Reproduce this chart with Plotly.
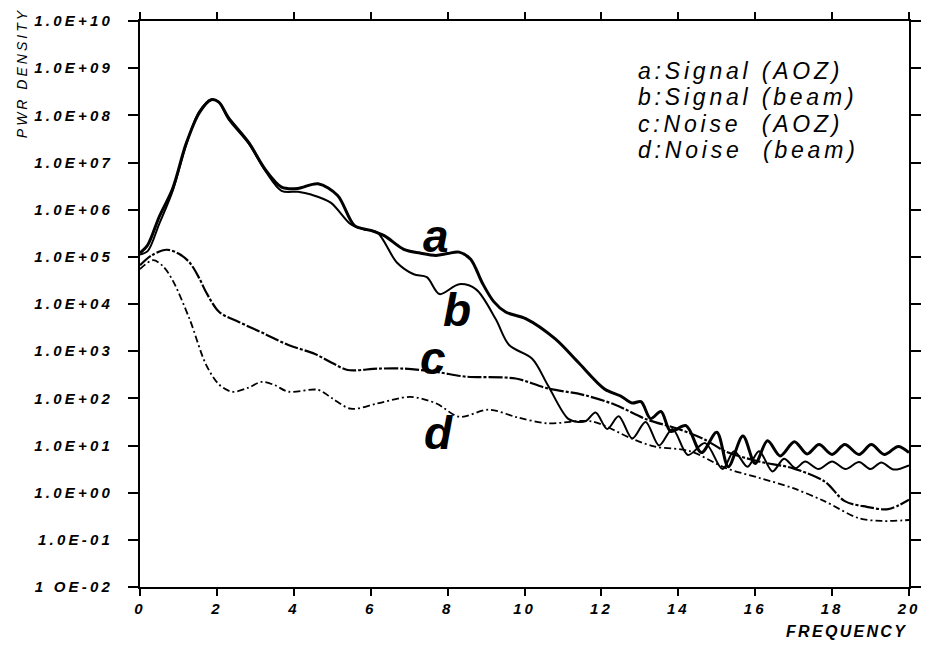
import numpy as np
import plotly.graph_objects as go

# Spectra: frequency values and log10 of power density
freq_a = [0, 0.2, 0.5, 0.85, 1.2, 1.54, 1.85, 2.05, 2.3, 2.83, 3.26, 3.68, 4.1, 4.63,
          5.14, 5.58, 6.0, 6.35, 6.86, 7.28, 7.7, 8.0, 8.3, 8.6, 8.9, 9.2, 9.51, 10.03,
          10.8, 11.39, 12.08, 12.5, 12.8, 13.03, 13.28, 13.55, 13.8, 14.2, 14.6, 15.0,
          15.3, 15.68, 16.0, 16.32, 16.65, 17.02, 17.35, 17.66, 18.0, 18.33, 18.7, 19.02,
          19.36, 19.72, 20.0]
log_a = [5.08, 5.25, 5.85, 6.45, 7.4, 8.05, 8.33, 8.28, 7.95, 7.42, 6.85, 6.48, 6.45, 6.55,
         6.3, 5.66, 5.56, 5.45, 5.16, 5.08, 5.03, 5.07, 5.10, 4.95, 4.45, 4.05, 3.83, 3.69,
         3.26, 2.77, 2.2, 2.05, 1.9, 1.93, 1.57, 1.72, 1.30, 1.42, 0.85, 1.28,
         0.55, 1.2, 0.62, 1.1, 0.78, 1.08, 0.82, 1.02, 0.81, 1.02, 0.81, 1.02,
         0.81, 0.98, 0.85]

freq_b = [0, 0.2, 0.5, 0.85, 1.2, 1.54, 1.85, 2.05, 2.3, 2.83, 3.26, 3.68, 4.11, 4.45,
          4.96, 5.48, 5.83, 6.17, 6.68, 7.12, 7.46, 7.79, 8.3, 8.74, 9.25, 9.6, 10.2,
          10.6, 11.13, 11.4, 11.6, 11.85, 12.15, 12.45, 12.8, 13.15, 13.5, 13.85, 14.25,
          14.7, 15.15, 15.45, 15.8, 16.1, 16.45, 16.75, 17.05, 17.3, 17.65, 18.0, 18.35,
          18.7, 19.0, 19.28, 19.6, 20.0]
log_b = [5.05, 5.12, 5.7, 6.4, 7.38, 8.08, 8.33, 8.28, 7.92, 7.4, 6.82, 6.4, 6.38, 6.32,
         6.15, 5.69, 5.58, 5.52, 4.88, 4.63, 4.57, 4.21, 4.42, 4.31, 3.68, 3.13, 2.84,
         2.29, 1.57, 1.50, 1.52, 1.70, 1.35, 1.62, 1.15, 1.50, 1.00, 1.35, 0.80,
         1.05, 0.50, 0.88, 0.55, 0.88, 0.45, 0.72, 0.52, 0.66, 0.50, 0.66, 0.50,
         0.65, 0.50, 0.64, 0.49, 0.58]

freq_c = [0, 0.3, 0.69, 1.0, 1.29, 1.54, 1.72, 2.06, 2.57, 3.26, 3.86, 4.55, 5.0, 5.4,
          6.17, 6.86, 7.71, 8.48, 9.77, 10.6, 11.5, 12.34, 13.19, 14.0, 14.7, 15.24,
          16.1, 16.97, 17.8, 18.33, 18.9, 19.46, 20.0]
log_c = [4.82, 5.03, 5.15, 5.07, 4.88, 4.55, 4.25, 3.83, 3.62, 3.36, 3.13, 2.94, 2.75, 2.60,
         2.63, 2.63, 2.56, 2.46, 2.42, 2.21, 2.08, 1.87, 1.55, 1.35, 1.12, 0.87,
         0.66, 0.52, 0.24, -0.18, -0.30, -0.35, -0.15]

freq_d = [0, 0.34, 0.6, 0.85, 1.29, 1.72, 2.06, 2.4, 2.8, 3.17, 3.5, 3.86, 4.63, 5.0,
          5.48, 6.17, 7.03, 7.71, 8.3, 9.07, 9.8, 10.6, 11.75, 12.78, 13.37, 14.3,
          15.24, 16.12, 16.97, 17.8, 18.69, 19.3, 20.0]
log_d = [4.74, 4.93, 4.8, 4.5, 3.68, 2.71, 2.29, 2.14, 2.22, 2.35, 2.28, 2.14, 2.18, 2.0,
         1.78, 1.89, 2.03, 1.89, 1.61, 1.76, 1.6, 1.47, 1.51, 1.15, 0.98, 0.88,
         0.52, 0.31, 0.10, -0.18, -0.54, -0.60, -0.58]

x_ticks = [0, 2, 4, 6, 8, 10, 12, 14, 16, 18, 20]
y_tick_exponents = [-2, -1, 0, 1, 2, 3, 4, 5, 6, 7, 8, 9, 10]
y_tick_labels = ["1 OE-02", "1.0E-01", "1.0E+00", "1.0E+01", "1.0E+02", "1.0E+03",
                 "1.0E+04", "1.0E+05", "1.0E+06", "1.0E+07", "1.0E+08", "1.0E+09",
                 "1.0E+10"]
legend_lines = ["a:Signal (AOZ)", "b:Signal (beam)",
                "c:Noise\u00a0\u00a0(AOZ)", "d:Noise\u00a0\u00a0(beam)"]
curve_tags = ["a", "b", "c", "d"]
x_title = "FREQUENCY"
y_title = "PWR DENSITY"


def spaced(text, px):
    return f'<span style="letter-spacing:{px}px">{text}</span>'


series = [
    (freq_a, log_a, 3.0, "solid"),
    (freq_b, log_b, 2.0, "solid"),
    (freq_c, log_c, 2.2, "14px,2px,3px,2px"),
    (freq_d, log_d, 1.8, "7px,3px,2px,3px"),
]

fig = go.Figure()
for tag, (fx, fy, width, dash) in zip(curve_tags, series):
    fig.add_trace(go.Scatter(
        x=fx, y=np.power(10.0, np.array(fy)), mode="lines", name=tag,
        line=dict(color="black", width=width, dash=dash, shape="spline", smoothing=0.9),
        showlegend=False, hoverinfo="skip"))

tick_font = dict(family="Liberation Sans", size=15, color="black",
                 weight="bold", style="italic")

fig.update_xaxes(
    range=[0, 20], tickvals=x_ticks, ticktext=[spaced(str(v), 3) for v in x_ticks],
    showgrid=False, zeroline=False, showline=True, linecolor="black", linewidth=2,
    mirror="ticks", ticks="outside", ticklen=7, tickwidth=2, tickcolor="black",
    tickfont=tick_font)
fig.update_yaxes(
    type="log", range=[-2, 10], tickvals=[10.0 ** e for e in y_tick_exponents],
    ticktext=[spaced(t, 3.2) for t in y_tick_labels],
    showgrid=False, zeroline=False, showline=True, linecolor="black", linewidth=2,
    mirror="ticks", ticks="outside", ticklen=10, tickwidth=2, tickcolor="black",
    tickfont=tick_font, ticklabelstandoff=12)

annotations = []
# curve tags next to each spectrum (y in log10 units on the log axis)
tag_pos = {"a": (7.71, 5.44), "b": (8.25, 3.88), "c": (7.61, 2.85), "d": (7.76, 1.27)}
for tag in curve_tags:
    tx, ty = tag_pos[tag]
    annotations.append(dict(
        x=tx, y=ty, xref="x", yref="y", text=tag, showarrow=False,
        xanchor="center", yanchor="middle",
        font=dict(family="Liberation Sans", size=46, color="black",
                  weight="bold", style="italic")))

# key text in the upper right
for i, line in enumerate(legend_lines):
    annotations.append(dict(
        x=0.645, y=0.912 - i * 0.0468, xref="paper", yref="paper",
        text=spaced(line, 3.8), showarrow=False, xanchor="left", yanchor="middle",
        font=dict(family="Liberation Sans", size=23, color="black", style="italic")))

annotations.append(dict(
    x=1.0, y=-0.079, xref="paper", yref="paper", text=spaced(x_title, 2.3),
    showarrow=False, xanchor="right", yanchor="middle",
    font=dict(family="Liberation Sans", size=16, color="black",
              weight="bold", style="italic")))
annotations.append(dict(
    x=-0.154, y=0.907, xref="paper", yref="paper", text=spaced(y_title, 3),
    showarrow=False, xanchor="center", yanchor="middle", textangle=-90,
    font=dict(family="Liberation Sans", size=14, color="black", style="italic")))

fig.update_layout(
    width=933, height=645,
    margin=dict(l=140, r=15, t=17, b=58),
    paper_bgcolor="white", plot_bgcolor="white",
    annotations=annotations)

fig.write_html("out.html")
